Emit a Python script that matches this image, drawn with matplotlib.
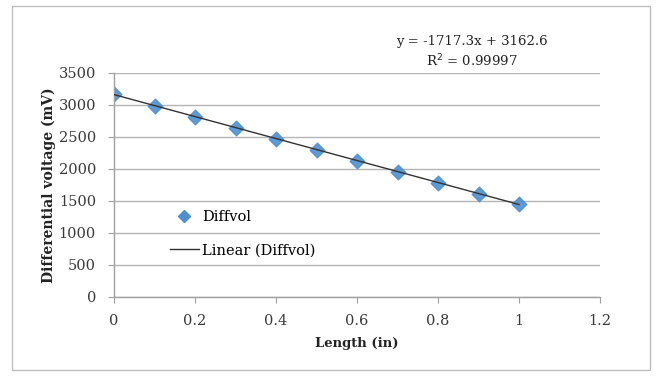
import numpy as np
import matplotlib
matplotlib.use("Agg")
import matplotlib.pyplot as plt
from matplotlib.lines import Line2D
from matplotlib.patches import Rectangle

length_in = [0.0, 0.1, 0.2, 0.3, 0.4, 0.5, 0.6, 0.7, 0.8, 0.9, 1.0]
diffvol_mv = [3165, 2990, 2815, 2648, 2470, 2292, 2128, 1955, 1780, 1612, 1450]
fit_slope = -1717.3
fit_intercept = 3162.6
x_ticks = [0, 0.2, 0.4, 0.6, 0.8, 1, 1.2]
x_tick_labels = ["0", "0.2", "0.4", "0.6", "0.8", "1", "1.2"]
y_ticks = [0, 500, 1000, 1500, 2000, 2500, 3000, 3500]

plt.rcParams['font.family'] = ['DejaVu Serif']

fig = plt.figure(figsize=(6.61, 3.77), dpi=100)
fig.patch.set_facecolor("white")
fig.patches.append(Rectangle((12/661, 1-370/377), 638/661, 364/377,
                             transform=fig.transFigure, fill=False,
                             edgecolor="#bdbdbd", linewidth=1.0))

ax = fig.add_axes([114/661, 1-297/377, 486/661, 224/377])
ax.set_xlim(0, 1.2)
ax.set_ylim(0, 3500)
ax.set_xticks(x_ticks)
ax.set_xticklabels(x_tick_labels)
ax.set_yticks(y_ticks)
ax.yaxis.grid(True, color="#b5b5b5", linewidth=1.0)
ax.set_axisbelow(True)
for s in ["top", "right"]:
    ax.spines[s].set_visible(False)
for s in ["left", "bottom"]:
    ax.spines[s].set_color("#a0a0a0")
    ax.spines[s].set_linewidth(1.0)
ax.tick_params(axis="both", colors="#a0a0a0", labelcolor="#3a3a3a",
               labelsize=10.5, length=4, direction="out")
ax.tick_params(axis="x", pad=8)
ax.tick_params(axis="y", pad=9)

xs = np.array(length_in)
ax.plot([xs.min(), xs.max()],
        [fit_slope * xs.min() + fit_intercept, fit_slope * xs.max() + fit_intercept],
        color="#333333", linewidth=1.0, zorder=3)
ax.scatter(length_in, diffvol_mv, marker="D", s=55, color="#4f8fce",
           edgecolors="#4f8fce", zorder=2, alpha=0.9)

ax.set_xlabel("Length (in)", fontsize=9.5, fontweight="bold", color="#222222", labelpad=7)
ax.set_ylabel("Differential voltage (mV)", fontsize=10, fontweight="bold", color="#222222", labelpad=2)

fig.text(472/661, 1-42/377, "y = -1717.3x + 3162.6", ha="center", va="center",
         fontsize=9.5, color="#222222")
fig.text(472/661, 1-61/377, "R$^2$ = 0.99997", ha="center", va="center",
         fontsize=9.5, color="#222222")

handles = [Line2D([], [], marker="D", linestyle="none", color="#4f8fce", markersize=6),
           Line2D([], [], color="#333333", linewidth=1.0)]
ax.legend(handles, ["Diffvol", "Linear (Diffvol)"], loc="upper left",
          bbox_to_anchor=(0.088, 0.445), frameon=False, fontsize=10.5,
          handlelength=2.0, handletextpad=0.2, labelspacing=1.3)

fig.savefig("out.png", dpi=100)
